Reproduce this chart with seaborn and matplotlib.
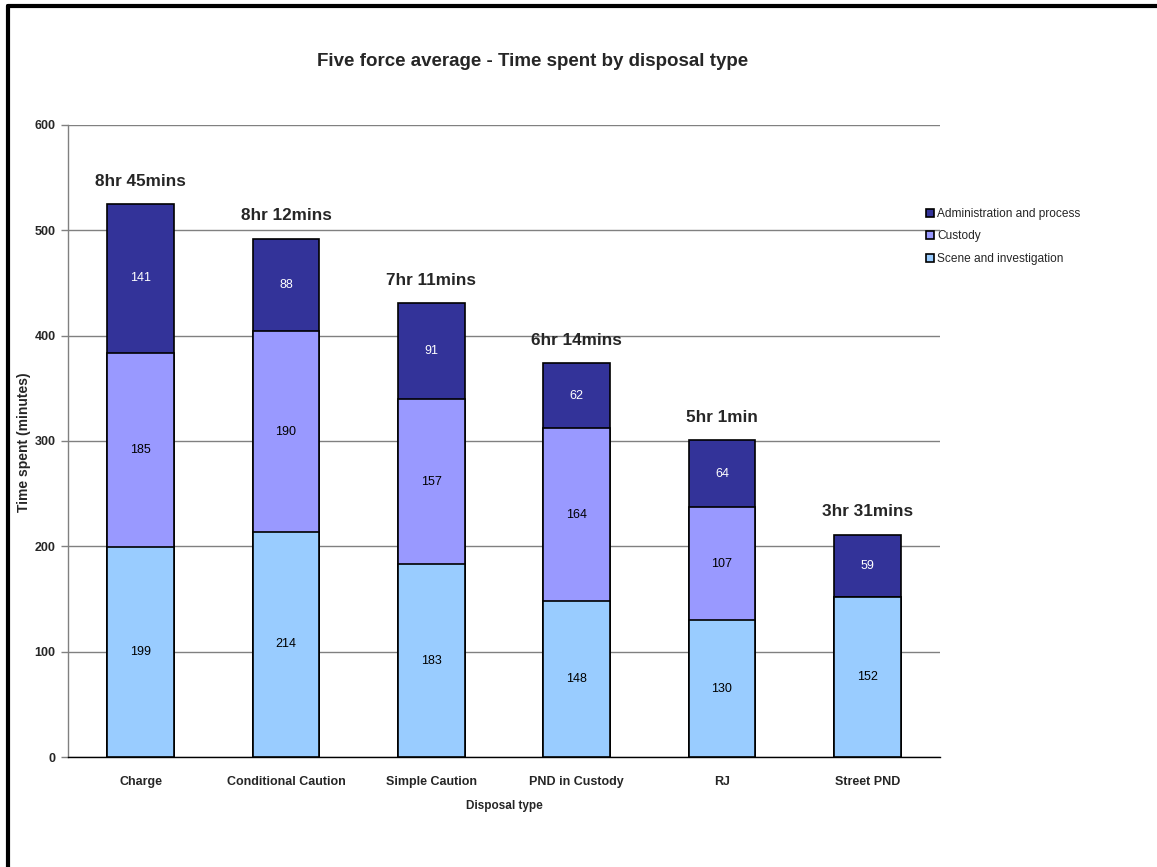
import matplotlib
matplotlib.use("Agg")
import matplotlib.pyplot as plt
import seaborn as sns
import numpy as np
from matplotlib.lines import Line2D
from matplotlib.patches import Patch

categories = ["Charge", "Conditional Caution", "Simple Caution", "PND in Custody", "RJ", "Street PND"]
scene = [199, 214, 183, 148, 130, 152]
custody = [185, 190, 157, 164, 107, 0]
admin = [141, 88, 91, 62, 64, 59]
total_labels = ["8hr 45mins", "8hr 12mins", "7hr 11mins", "6hr 14mins", "5hr 1min", "3hr 31mins"]

series_names = ["Scene and investigation", "Custody", "Administration and process"]
colors = {"Scene and investigation": "#99CCFF", "Custody": "#9999FF", "Administration and process": "#333399"}

sns.set_theme(style="white")
plt.rcParams["font.family"] = ["Liberation Sans", "DejaVu Sans"]

fig = plt.figure(figsize=(11.57, 8.67), dpi=100)
ax = fig.add_axes([68 / 1157, 1 - 757 / 867, (940 - 68) / 1157, (757 - 125) / 867])

scene_a = np.array(scene)
cust_top = scene_a + np.array(custody)
admin_top = cust_top + np.array(admin)

# draw cumulative bars from top to bottom (stacked effect)
for heights, name in [(admin_top, "Administration and process"), (cust_top, "Custody"), (scene_a, "Scene and investigation")]:
    sns.barplot(x=categories, y=heights, color=colors[name], saturation=1, width=0.46,
                edgecolor="black", linewidth=1.2, ax=ax, zorder=3)

# segment labels
for i in range(len(categories)):
    ax.text(i, scene[i] / 2, str(scene[i]), ha="center", va="center", fontsize=9, color="black", zorder=5)
    if custody[i] > 0:
        ax.text(i, scene[i] + custody[i] / 2, str(custody[i]), ha="center", va="center", fontsize=9, color="black", zorder=5)
    ax.text(i, cust_top[i] + admin[i] / 2, str(admin[i]), ha="center", va="center", fontsize=9, color="white", zorder=5)
    ax.annotate(total_labels[i], (i, admin_top[i]), xytext=(0, 11), textcoords="offset points",
                ha="center", va="bottom", fontsize=12.3, fontweight="bold", zorder=5)

ax.set_ylim(0, 600)
ax.set_xlim(-0.5, len(categories) - 0.5)
ax.set_yticks(range(0, 601, 100))
ax.yaxis.grid(True, color="#808080", linewidth=1)
ax.set_axisbelow(True)
for s in ["top", "right"]:
    ax.spines[s].set_visible(False)
ax.spines["left"].set_color("#808080")
ax.spines["bottom"].set_color("black")
ax.spines["left"].set_linewidth(1)
ax.spines["bottom"].set_linewidth(1)

ax.set_xticks(range(len(categories)))
ax.set_xticklabels(categories, fontsize=9, fontweight="bold")
ax.set_xticks(np.arange(-0.5, len(categories), 1.0), minor=True)
ax.tick_params(axis="x", which="major", length=0, pad=14)
ax.tick_params(axis="x", which="minor", length=5, width=1, color="black", direction="out")
ax.tick_params(axis="y", which="major", length=5, width=1, color="#808080", direction="out", left=True, labelsize=9, pad=4)
for lab in ax.get_yticklabels():
    lab.set_fontweight("bold")

ax.set_xlabel("Disposal type", fontsize=8.5, fontweight="bold", labelpad=8)
ax.set_ylabel("Time spent (minutes)", fontsize=10, fontweight="bold")
ax.yaxis.set_label_coords((31 - 68) / (940 - 68), (757 - 442) / (757 - 125))

fig.text(533 / 1157, 1 - 62 / 867, "Five force average - Time spent by disposal type",
         ha="center", va="center", fontsize=13.5, fontweight="bold")

handles = [Patch(facecolor=colors[n], edgecolor="black", linewidth=1.2) for n in reversed(series_names)]
fig.legend(handles, list(reversed(series_names)), loc="upper left",
           bbox_to_anchor=(920 / 1157, 1 - 202 / 867), frameon=False, fontsize=8.6,
           handlelength=0.7, handleheight=0.7, handletextpad=0.25, labelspacing=0.88, borderpad=0)

# outer border (top and left)
fig.add_artist(Line2D([8 / 1157, 8 / 1157], [0, 1 - 6 / 867], color="black", linewidth=3, transform=fig.transFigure))
fig.add_artist(Line2D([8 / 1157, 1], [1 - 6 / 867, 1 - 6 / 867], color="black", linewidth=3, transform=fig.transFigure))

fig.savefig("out.png", dpi=100)
